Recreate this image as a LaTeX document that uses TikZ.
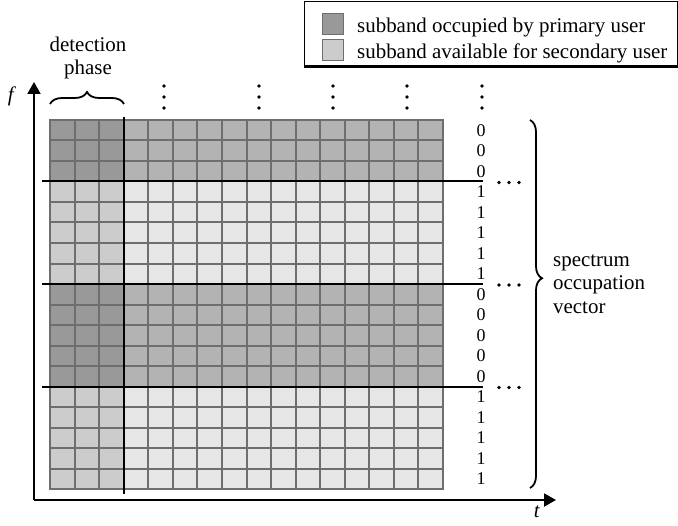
\documentclass[tikz,border=0pt]{standalone}
\usepackage{fontspec}
\setmainfont{Liberation Serif}
\usepackage{tikz}
\usetikzlibrary{arrows.meta,positioning,decorations.pathreplacing}
\definecolor{busydet}{HTML}{999999}
\definecolor{busycell}{HTML}{B3B3B3}
\definecolor{freedet}{HTML}{CCCCCC}
\definecolor{freecell}{HTML}{E6E6E6}
\definecolor{cellline}{HTML}{6E6E6E}
\tikzset{
  cellbox/.style={draw=cellline, line width=2bp},
  axisarrow/.style={-{Triangle[length=12bp,width=13bp]}, line width=2bp},
  bandline/.style={line width=2bp},
  bracedeco/.style={decorate, decoration={brace, amplitude=12bp}, line width=1.8bp},
  vecbit/.style={font=\fontsize{18}{18}\selectfont, inner sep=0pt},
  labeltext/.style={font=\fontsize{21}{23.5}\selectfont, inner sep=0pt},
  keybox/.style={draw=cellline, line width=0.8bp, minimum width=21bp,
    minimum height=21bp, inner sep=0pt},
}

\begin{document}
\begin{tikzpicture}[x=1bp,y=-1bp]
  \useasboundingbox (0,0) rectangle (678,526);

  % time-frequency grid, one bit per subband
  \foreach \b [count=\r from 0] in {0,0,0,1,1,1,1,1,0,0,0,0,0,1,1,1,1,1} {
    \ifnum\b=0 \def\cellkind{busy}\else\def\cellkind{free}\fi
    \foreach \c in {0,...,15} {
      \ifnum\c<3 \def\cellpart{det}\else\def\cellpart{cell}\fi
      \filldraw[cellbox, fill=\cellkind\cellpart]
        ({50+\c*24.5625},{120+\r*20.5}) rectangle ++(24.5625,20.5);
    }
    \node[vecbit] (bit\r) at (481,{120+(\r+0.5)*20.5}) {\b};
  }

  % band borders and end of detection phase
  \foreach \y in {3,8,13} {
    \draw[bandline] (42,{120+\y*20.5}) -- (483,{120+\y*20.5});
    \foreach \x in {499,509,519}
      \fill (\x,{120+\y*20.5+1}) circle (1.8bp);
  }
  \draw[bandline] (124,117) -- (124,494);

  % continuation dots above the grid
  \foreach \x in {164,259,333,407,482}
    \foreach \y in {86,97,108}
      \fill (\x,\y) circle (1.8bp);

  % axes
  \coordinate (origin) at (34,500);
  \coordinate (ftip) at (34,82);
  \coordinate (ttip) at (556,500);
  \draw[axisarrow] (origin) -- (ftip);
  \draw[axisarrow] (origin) -- (ttip);
  \node[labeltext] (flabel) at (12,96) {\textit{f}};
  \node[labeltext] (tlabel) at (537,512) {\textit{t}};

  % braces
  \draw[bracedeco] (50,104) -- (124,104);
  \node[labeltext, align=center] (detect) at (88,58) {detection\\phase};
  \draw[bracedeco, decoration={aspect=0.43}] (530,120) -- (530,488);
  \node[labeltext, align=left, anchor=west] (vector) at (553,284)
    {spectrum\\occupation\\vector};

  % legend
  \draw[line width=0.9bp] (304,1) rectangle (677,66);
  \draw[line width=3bp] (303.5,66.5) -- (677.5,66.5);
  \node[keybox, fill=busydet] (keybusy) at (332.5,23.5) {};
  \node[keybox, fill=freedet] (keyfree) at (332.5,49.5) {};
  \node[labeltext, anchor=base west] (txtbusy) at (357,33)
    {subband occupied by primary user};
  \node[labeltext, anchor=base west] (txtfree) at (357,59)
    {subband available for secondary user};
\end{tikzpicture}
\end{document}
